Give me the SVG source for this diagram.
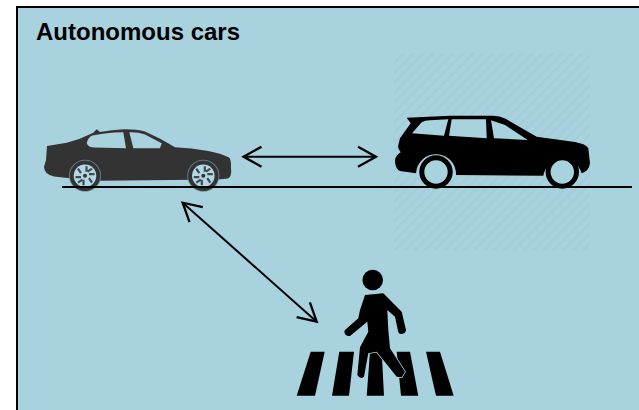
<svg xmlns="http://www.w3.org/2000/svg" width="639" height="410" viewBox="0 0 639 410">
<style>
.bg{fill:#a9d2df}
.conn{fill:none;stroke:#000;stroke-width:2}
.road{fill:none;stroke:#000;stroke-width:2.2}
.title{font-family:"Liberation Sans",Arial,sans-serif;font-weight:700;font-size:24px;fill:#000}
.win{fill:#a9d2df}
.gap{stroke:#3f4a50;stroke-width:2.2;fill:none}
</style>
<defs>
<pattern id="hatch" patternUnits="userSpaceOnUse" width="7" height="7" patternTransform="rotate(45)">
<rect x="0" y="0" width="2.5" height="7" fill="#a4cdda"/>
</pattern>
<marker id="head" markerUnits="userSpaceOnUse" markerWidth="44" markerHeight="44" viewBox="-22 -22 44 44" refX="0" refY="0" orient="auto-start-reverse">
<path d="M-18 -10 L0 0 L-18 10" fill="none" stroke="#000" stroke-width="2.3"/>
</marker>
<g id="wheel">
<circle r="16" fill="#6f8f9a"/>
<circle r="15.2" fill="#333"/>
<circle r="11.3" fill="#b4d8e3"/>
<path class="gap" d="M1.5 -4V-9.5M4 -1.5H9.5M-1.5 4V9.5M-4 1.5H-9.5M4 2.5L7 7M2.5 -4L7 -7M-4 -2.5L-7 -7M-2.5 4L-7 7"/>
<circle r="2" fill="#333"/>
</g>
</defs>
<rect class="bg" x="0" y="0" width="639" height="410"/>
<rect x="0" y="0" width="639" height="7" fill="#fff"/>
<rect x="0" y="0" width="17" height="410" fill="#fff"/>
<path d="M17 410V7H639" fill="none" stroke="#000" stroke-width="2"/>
<rect x="394" y="53" width="196" height="197" fill="url(#hatch)"/>
<text class="title" x="36" y="40">Autonomous cars</text>
<g id="sedan">
<path d="M47 146L66.7 142.7Q80 139.5 93.3 132.7L96.7 129.3L100 132Q112 129.8 123.3 129.3Q136 129 145 131.5Q160 138 175 147.3Q192 148 206.7 150.7Q222 153.5 229 157.5Q231.5 160 231 168Q232 177 228 178.5L218 179.5L100 180.7L70 178.3L54 176.5Q44 174 44 166.7L46 160Z" fill="#333"/>
<path class="win" d="M86.7 143Q88 137 92.5 135.5Q106 132.5 123.3 132.3L126 148.3L95 147.5Q88 147.5 86.7 143Z"/>
<path class="win" d="M129.3 132.3Q138 132 145 134.5L161.7 143.3L160 148.3H133.3Z"/>
<use href="#wheel" x="85" y="175.7"/>
<use href="#wheel" x="203.3" y="175.7"/>
</g>
<g id="suv">
<path d="M406.7 117.7L450 115.7H493.3Q500 116 505 118.5L536.7 136.7L575 142Q586 144 588.3 148.3L590 163.3Q589 171 581.7 173.3A19.7 19.7 0 0 0 543.3 175.7L456 175A20 20 0 0 0 416 173.3L400 171Q395 169 395 160Q396 155 400.7 152.3Q397.5 149 398.3 145L400 138.3L410.7 123.3Z" fill="#000"/>
<path class="win" d="M412 133.3L421.7 122.3Q425 120.5 430 120.3L448.3 119.3L444 135.7Z"/>
<path class="win" d="M451.7 119.3H486L486.7 138.3L449 135.7Z"/>
<path class="win" d="M491 120.3L505 125L527.7 140L494 138.3Z"/>
<circle cx="436" cy="172" r="14.2" fill="#a9d2df" stroke="#000" stroke-width="5"/>
<circle cx="562.3" cy="172" r="14.2" fill="#a9d2df" stroke="#000" stroke-width="5"/>
</g>
<g id="pedestrian">
<path d="M310.7 351.7H324.7L315 395.7H296.7Z"/>
<path d="M339.3 351.7H354L349 395.7H332Z"/>
<path d="M370 351.7H381.7L384 395.7H366.7Z"/>
<path d="M396.7 351.7H410L418.3 395.7H401Z"/>
<path d="M426 351.7H440L453.7 395.7H436Z"/>
<circle cx="372.7" cy="280" r="10.3"/>
<path d="M365 295L383.3 293.3L401.7 311.7L406 330Q405.5 334 401 334Q398.5 334 398 331L395 316.7L387.3 310L388.3 330L390 348.3L405 371.7L401.7 377.3L396.7 376.7L376.7 351.7L368.3 353.3L364 376.7Q360.5 380 357.3 375L360 347.3L368.3 331.7L367.3 321.7L350 336Q346 336 345 334Q343.5 331.5 345 330L358.3 318.3L360 310Z" stroke="#a9d2df" stroke-width="1.5" stroke-linejoin="round" paint-order="stroke"/>
</g>
<g id="connectors">
<path class="road" d="M62 187H632"/>
<path class="conn" d="M243.5 156.7H376" marker-start="url(#head)" marker-end="url(#head)"/>
<path class="conn" d="M182.7 202.7L316.7 321.7" marker-start="url(#head)" marker-end="url(#head)"/>
</g>
</svg>
